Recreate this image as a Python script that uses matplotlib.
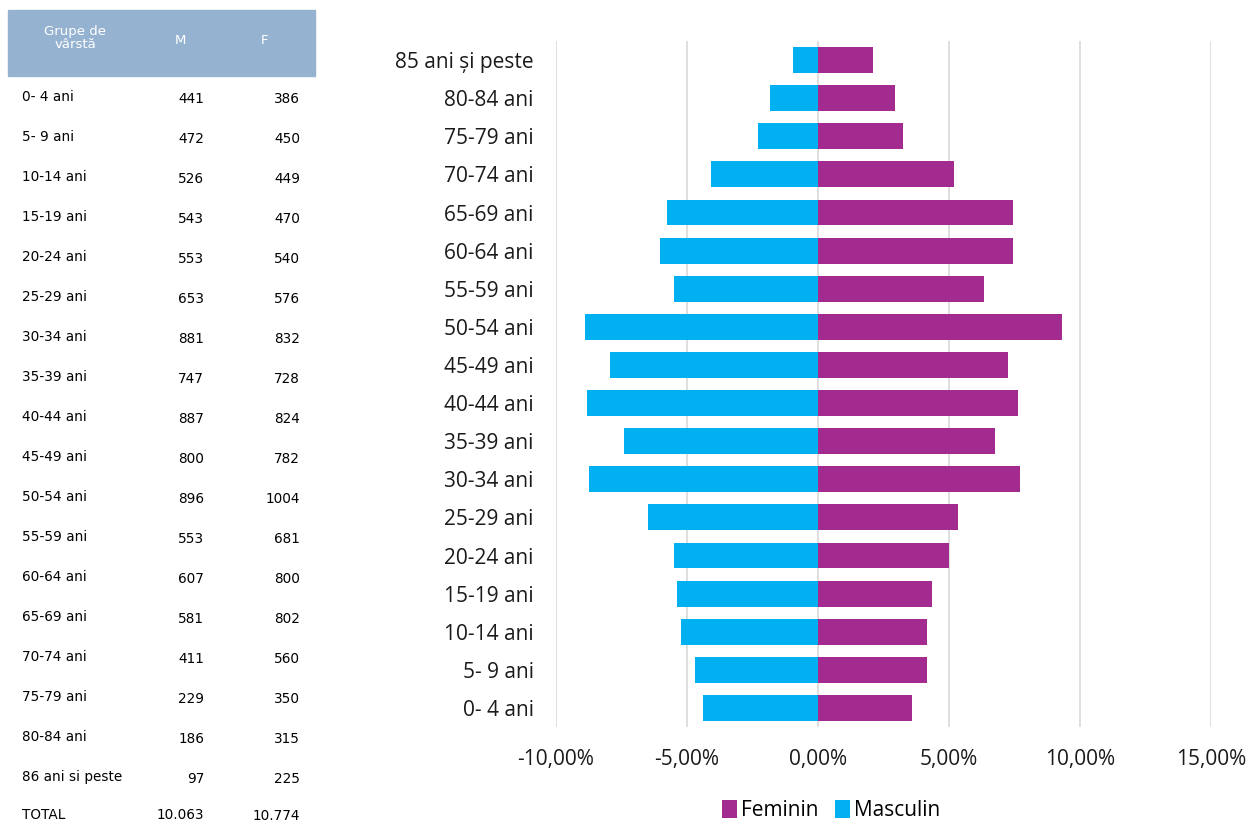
import matplotlib.pyplot as plt
import matplotlib.patches as patches
import numpy as np
from matplotlib.ticker import FuncFormatter

# Age groups (youngest first) and population counts from the table
age_groups = ["0- 4 ani", "5- 9 ani", "10-14 ani", "15-19 ani", "20-24 ani", "25-29 ani",
              "30-34 ani", "35-39 ani", "40-44 ani", "45-49 ani", "50-54 ani", "55-59 ani",
              "60-64 ani", "65-69 ani", "70-74 ani", "75-79 ani", "80-84 ani", "85 ani și peste"]
table_labels = age_groups[:-1] + ["86 ani si peste"]
male = [441, 472, 526, 543, 553, 653, 881, 747, 887, 800, 896, 553, 607, 581, 411, 229, 186, 97]
female = [386, 450, 449, 470, 540, 576, 832, 728, 824, 782, 1004, 681, 800, 802, 560, 350, 315, 225]
total_m = "10.063"
total_f = "10.774"

male_share = -np.array(male) / sum(male) * 100
female_share = np.array(female) / sum(female) * 100

fig = plt.figure(figsize=(12.5, 8.23), dpi=100)

# ---- left table ----
W, H = 1250, 823
def fx(x):
    return x / W
def fy(y):
    return 1 - y / H

fig.patches.append(patches.Rectangle((fx(8), fy(76)), fx(307), 66 / H,
                                     transform=fig.transFigure, color="#95B3D1", zorder=0))
fig.text(fx(75), fy(38), "Grupe de\nvârstă", color="white", ha="center", va="center",
         fontsize=9.5, linespacing=0.95)
fig.text(fx(180), fy(40), "M", color="white", ha="center", va="center", fontsize=9.5)
fig.text(fx(265), fy(40), "F", color="white", ha="center", va="center", fontsize=9.5)

for i, lab in enumerate(table_labels):
    y = 97 + 40 * i
    fig.text(fx(22), fy(y), lab, ha="left", va="center", fontsize=9.8)
    fig.text(fx(204), fy(y + 2), str(male[i]), ha="right", va="center", fontsize=9.8)
    fig.text(fx(300), fy(y + 2), str(female[i]), ha="right", va="center", fontsize=9.8)
fig.text(fx(22), fy(815), "TOTAL", ha="left", va="center", fontsize=9.8)
fig.text(fx(204), fy(815), total_m, ha="right", va="center", fontsize=9.8)
fig.text(fx(300), fy(816), total_f, ha="right", va="center", fontsize=9.8)

# ---- pyramid chart ----
ax = fig.add_axes([fx(556), fy(727), fx(1211 - 556), (727 - 41) / H])
pos = np.arange(len(age_groups))
ax.barh(pos, female_share, height=0.68, color="#A32B8F", label="Feminin", zorder=3)
ax.barh(pos, male_share, height=0.68, color="#00B0F0", label="Masculin", zorder=3)

ax.set_xlim(-10, 15)
ax.set_ylim(-0.5, len(age_groups) - 0.5)
ax.set_xticks([-10, -5, 0, 5, 10, 15])
ax.xaxis.set_major_formatter(FuncFormatter(lambda v, p: f"{v:.2f}%".replace(".", ",")))
ax.set_yticks(pos)
ax.set_yticklabels(age_groups)
ax.tick_params(axis="both", length=0, labelsize=15, colors="#1a1a1a")
ax.tick_params(axis="x", pad=16)
ax.tick_params(axis="y", pad=16)
for lab in ax.get_xticklabels() + ax.get_yticklabels():
    lab.set_family("Open Sans")
ax.grid(axis="x", color="#D9D9D9", linewidth=1.2, zorder=0)
for s in ax.spines.values():
    s.set_visible(False)

ax.legend(loc="center", bbox_to_anchor=(0.42, -0.122), ncol=2, frameon=False,
          prop={"family": "Open Sans", "size": 15}, handlelength=0.7, handleheight=0.9,
          handletextpad=0.2, columnspacing=0.8)

fig.savefig("out.png", dpi=100)
